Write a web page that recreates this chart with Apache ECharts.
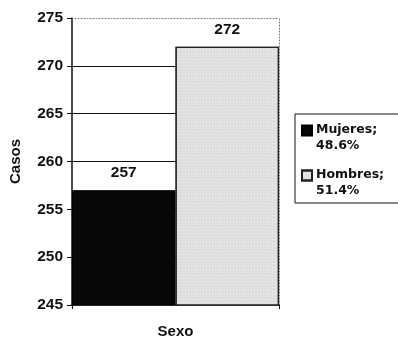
<!DOCTYPE html>
<html>
<head>
<meta charset="utf-8">
<script src="https://cdn.jsdelivr.net/npm/echarts@6/dist/echarts.min.js"></script>
<style>
  html, body { margin: 0; padding: 0; background: #fff; }
  #chart { width: 398px; height: 345px; }
</style>
</head>
<body>
<div id="chart"></div>
<script>
// Cases by sex
const categories = ['Sexo'];
const seriesNames = ['Mujeres', 'Hombres'];
const casos = [257, 272];
const porcentajes = ['48.6%', '51.4%'];
const yTicks = { min: 245, max: 275, interval: 5 };

const FONT = '"Liberation Sans", Arial, sans-serif';
const LEGEND_FONT = '"DejaVu Sans", Verdana, sans-serif';
// square swatch sitting beside the first line of a two-line legend entry
const LEGEND_ICON = 'path://M0,0L10,0L10,10L0,10Z M0,25L0,25';

const chart = echarts.init(document.getElementById('chart'), null, { renderer: 'canvas' });

const fills = [
  { color: '#080808', borderColor: '#000', borderWidth: 1 },
  {
    color: '#e4e4e4', borderColor: '#222', borderWidth: 1.2,
    decal: { symbol: 'circle', symbolSize: 0.5, dashArrayX: [2, 1], dashArrayY: [2, 1], color: 'rgba(90,90,90,0.3)', rotation: 0 }
  }
];

const pctByName = {};
seriesNames.forEach((n, i) => { pctByName[n] = porcentajes[i]; });

chart.setOption({
  animation: false,
  backgroundColor: '#fff',
  textStyle: { fontFamily: FONT },
  grid: { left: 72, right: 119, top: 18, bottom: 40, outerBoundsMode: 'none', containLabel: false },
  legend: {
    orient: 'vertical',
    left: 295, top: 114,
    width: 110,
    padding: [8, 30, 4, 6],
    borderColor: '#111', borderWidth: 1,
    itemWidth: 10, itemHeight: 25, itemGap: 13,
    icon: LEGEND_ICON,
    textStyle: { fontFamily: LEGEND_FONT, fontWeight: 'bold', fontSize: 12.5, color: '#111', lineHeight: 16, padding: [0, 0, 0, -1] },
    formatter: name => name + ';\n' + pctByName[name],
    data: seriesNames
  },
  xAxis: [
    {
      type: 'category', data: categories,
      name: 'Sexo', nameLocation: 'middle', nameGap: 19,
      nameTextStyle: { fontFamily: FONT, fontWeight: 'bold', fontSize: 15, color: '#111' },
      axisLine: { lineStyle: { color: '#111', width: 1.5 } },
      axisTick: { show: true, length: 4, lineStyle: { color: '#111' } },
      axisLabel: { show: false }
    },
    {
      type: 'category', data: categories, position: 'top',
      axisLine: { lineStyle: { color: '#777', type: [1, 2], width: 1 } },
      axisTick: { show: false }, axisLabel: { show: false }
    }
  ],
  yAxis: [
    {
      type: 'value', min: yTicks.min, max: yTicks.max, interval: yTicks.interval,
      name: 'Casos', nameLocation: 'middle', nameGap: 49, nameRotate: 90,
      nameTextStyle: { fontFamily: FONT, fontWeight: 'bold', fontSize: 15, color: '#111' },
      axisLine: { show: true, lineStyle: { color: '#111', width: 1.5 } },
      axisTick: { show: true, length: 5, lineStyle: { color: '#111' } },
      axisLabel: { fontFamily: FONT, fontWeight: 'bold', fontSize: 15.5, color: '#111', margin: 9 },
      splitLine: { show: true, showMaxLine: false, showMinLine: false, lineStyle: { color: '#111', width: 1.2 } }
    },
    {
      type: 'value', min: yTicks.min, max: yTicks.max, interval: yTicks.interval, position: 'right',
      axisLine: { show: true, lineStyle: { color: '#777', type: [1, 2], width: 1 } },
      axisTick: { show: false }, axisLabel: { show: false }, splitLine: { show: false }
    }
  ],
  series: seriesNames.map((name, i) => ({
    name: name,
    type: 'bar',
    barGap: '0%',
    barCategoryGap: '0%',
    data: [casos[i]],
    itemStyle: fills[i],
    label: {
      show: true, position: 'top', distance: 9,
      fontFamily: FONT, fontWeight: 'bold', fontSize: 15.5, color: '#111'
    }
  }))
});
</script>
</body>
</html>
